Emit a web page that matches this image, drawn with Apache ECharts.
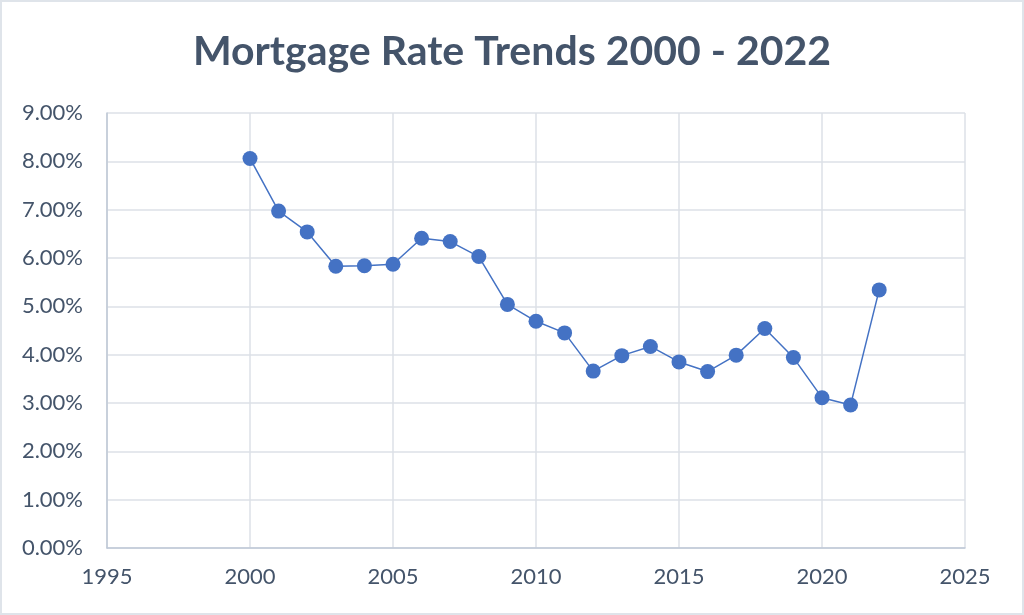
<!DOCTYPE html>
<html>
<head>
<meta charset="utf-8">
<script src="https://cdn.jsdelivr.net/npm/echarts@6/dist/echarts.min.js"></script>
<style>
html,body{margin:0;padding:0;background:#fff;}
#c{width:1020px;height:611px;border:2px solid #dfe4ea;}
</style>
</head>
<body>
<div id="c"></div>
<script>
const years = [2000,2001,2002,2003,2004,2005,2006,2007,2008,2009,2010,2011,2012,2013,2014,2015,2016,2017,2018,2019,2020,2021,2022];
const rates = [8.06,6.97,6.54,5.83,5.84,5.87,6.41,6.34,6.03,5.04,4.69,4.45,3.66,3.98,4.17,3.85,3.65,3.99,4.54,3.94,3.11,2.96,5.34];
const titleText = 'Mortgage Rate Trends 2000 - 2022';

const chart = echarts.init(document.getElementById('c'));
chart.setOption({
  animation:false,
  title:{text:titleText,left:'center',top:24,textStyle:{fontFamily:'Lato',fontWeight:'bold',fontSize:41,color:'#44546a'}},
  grid:{left:105,right:57,top:111,bottom:65},
  xAxis:{type:'value',min:1995,max:2025,interval:5,
    axisLine:{show:true,lineStyle:{color:'#bfc8d6',width:1.5}},
    axisTick:{show:false},
    splitLine:{show:true,lineStyle:{color:'#dde1e7',width:1.5}},
    axisLabel:{color:'#44546a',fontFamily:'Lato',fontSize:22,margin:18,formatter:v=>String(v)}},
  yAxis:{type:'value',min:0,max:9,interval:1,
    axisLine:{show:true,lineStyle:{color:'#bfc8d6',width:1.5}},
    axisTick:{show:false},
    splitLine:{show:true,lineStyle:{color:'#dde1e7',width:1.5}},
    axisLabel:{color:'#44546a',fontFamily:'Lato',fontSize:22,margin:24,formatter:v=>v.toFixed(2)+'%'}},
  series:[{type:'line',data:years.map((y,i)=>[y,rates[i]]),
    symbol:'circle',symbolSize:15,
    lineStyle:{color:'#4472c4',width:1.5},
    itemStyle:{color:'#4472c4'}}]
});
</script>
</body>
</html>
